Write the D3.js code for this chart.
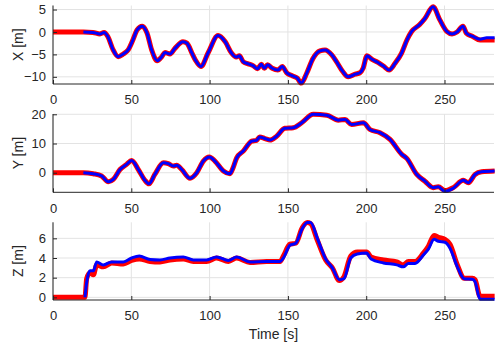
<!DOCTYPE html>
<html>
<head>
<meta charset="utf-8">
<script src="https://cdn.jsdelivr.net/npm/d3@7"></script>
<style>
  body { margin: 0; background: #fff; }
  text { font-family: "Liberation Sans", Arial, sans-serif; fill: #262626; }
</style>
</head>
<body>
<div id="chart"></div>
<script>
/* DATA */
const timeTicks = [0, 50, 100, 150, 200, 250];

const xTime = [0, 19.4, 25.5, 30, 32.6, 35, 38.4, 41.6, 44.9, 48,
  51, 53.7, 57, 60, 63, 66.5, 69.5, 71.5, 74.7, 78,
  83, 85.5, 88.7, 91, 94.5, 99, 105.4, 110, 114, 117,
  119, 121.4, 124.6, 127.7, 130.6, 133, 135, 137, 140, 143.6,
  146.4, 149.2, 153, 156, 158.5, 162, 166, 170.5, 173.7, 178,
  181, 185, 188.5, 193, 196, 198, 200.5, 203.7, 207.5, 211,
  214.6, 218.4, 222.6, 226, 229, 234, 237.5, 242.7, 247, 251.5,
  254.8, 258, 261.8, 264, 268, 272.7, 277, 282];
const xRef = [0, 0, -0.1, -0.45, -0.1, -1.0, -4.0, -5.5, -4.9, -4.0,
  -1.8, 0.45, 1.3, -0.2, -4.0, -6.4, -5.5, -4.6, -4.9, -3.6,
  -2.2, -2.5, -4.7, -6.3, -7.7, -4.7, -0.8, -2.2, -4.7, -5.6,
  -5.3, -6.6, -7.1, -7.5, -8.2, -7.2, -8.1, -7.3, -8.1, -8.5,
  -7.7, -9.1, -9.8, -10.3, -11.4, -9.2, -5.9, -4.2, -4.0, -5.1,
  -6.6, -8.8, -10.0, -9.4, -9.1, -8.1, -5.3, -6.1, -6.8, -7.6,
  -8.5, -7.0, -4.7, -1.8, 0.1, 1.6, 3.0, 5.6, 2.7, 0.1,
  -0.45, 0, 1.3, -0.3, -1.0, -1.8, -1.8, -1.8];
const xEst = [null, 0, -0.1, -0.45, -0.1, -1.0, -4.0, -5.5, -4.9, -4.0,
  -1.8, 0.45, 1.3, -0.2, -4.0, -6.4, -5.5, -4.6, -4.9, -3.6,
  -2.2, -2.5, -4.7, -6.3, -7.7, -4.7, -0.8, -2.2, -4.7, -5.6,
  -5.3, -6.6, -7.1, -7.5, -8.2, -7.2, -8.1, -7.3, -8.1, -8.5,
  -7.7, -9.1, -9.8, -10.3, -11.4, -9.2, -5.9, -4.2, -4.0, -5.1,
  -6.6, -8.8, -10.0, -9.4, -9.1, -8.1, -5.3, -6.1, -6.8, -7.6,
  -8.5, -7.0, -4.7, -1.8, 0.1, 1.6, 3.0, 5.6, 2.7, 0.1,
  -0.45, 0, 1.3, -0.3, -1.0, -1.6, -1.3, -1.3];

const yTime = [0, 19.4, 25.7, 31, 35.3, 38.5, 42.8, 47, 50.2, 54.5,
  58.3, 61.3, 65, 70.5, 73.6, 76.8, 79, 82.2, 87.5, 91.8,
  96, 99.8, 103.4, 108.8, 113, 115, 117.3, 121.5, 126.9, 130,
  132, 135.3, 138.6, 142.8, 148, 153.4, 158.8, 166.2, 174.8, 182.2,
  186.5, 190.7, 198.2, 202.4, 208.8, 215.2, 222.7, 225.9, 232.3, 237.5,
  242.8, 246, 250.3, 255.6, 262, 265.2, 269.5, 273.7, 282];
const yRef = [0, 0, -0.35, -1.1, -3.1, -2.3, 1.1, 2.85, 4.2, 1.1,
  -2.3, -3.8, -0.6, 3.4, 3.1, 2.3, 2.6, 1.1, -1.9, 0,
  4.0, 5.4, 4.0, 0.6, -0.35, 1.7, 5.1, 7.4, 10.8, 11.1,
  12.2, 11.7, 11.2, 12.5, 15.2, 15.4, 17.1, 20.0, 19.7, 18.0,
  18.2, 16.5, 17.1, 14.8, 13.7, 11.4, 6.3, 4.9, -0.6, -2.9,
  -5.1, -4.8, -6.1, -5.1, -2.6, -3.4, -0.6, 0.3, 0.6];
const yEst = [null, 0, -0.35, -1.1, -3.1, -2.3, 1.1, 2.85, 4.2, 1.1,
  -2.3, -3.8, -0.6, 3.4, 3.1, 2.3, 2.6, 1.1, -1.9, 0,
  4.0, 5.4, 4.0, 0.6, -0.35, 1.7, 5.1, 7.4, 10.8, 11.1,
  12.2, 11.7, 11.2, 12.5, 15.2, 15.4, 17.1, 20.0, 19.7, 18.0,
  18.2, 16.5, 17.1, 14.8, 13.7, 11.4, 6.3, 4.9, -0.6, -2.9,
  -5.1, -4.8, -6.4, -5.3, -2.6, -3.4, -0.6, 0.3, 0.6];

const zTime = [0, 20.4, 21.5, 23.6, 25.8, 27.9, 32.1, 37.5, 44.9, 50.2,
  55.1, 62, 68.3, 74.7, 83.2, 89.6, 98.1, 104.5, 112, 117.3,
  125.8, 136.4, 145, 147.1, 151.3, 155, 159.2, 162.4, 164.5, 168.8,
  174.1, 178.4, 182.8, 185.8, 190.1, 194.3, 200.3, 203.1, 211, 219.5,
  223.7, 226.9, 231.2, 236.5, 239.7, 243.3, 246.1, 250.3, 253.5, 258.2,
  262.5, 267.8, 269.5, 272.7, 282];
const zRef = [0, 0, 1.9, 2.5, 2.3, 3.3, 3.1, 3.5, 3.4, 3.75,
  3.9, 3.65, 3.6, 3.8, 3.9, 3.65, 3.65, 4.0, 3.65, 4.0,
  3.55, 3.65, 3.65, 4.2, 5.4, 5.5, 7.1, 7.6, 7.5, 5.8,
  3.8, 3.0, 1.7, 2.1, 4.2, 4.6, 4.6, 4.1, 3.8, 3.6,
  3.3, 3.65, 3.65, 4.5, 5.2, 6.3, 6.1, 5.9, 5.4, 3.3,
  1.95, 1.95, 1.8, 0.1, 0.1];
const zEst = [null, 0, 1.5, 2.7, 2.7, 3.6, 3.3, 3.6, 3.6, 4.0,
  4.2, 3.85, 3.8, 4.0, 4.1, 3.8, 3.8, 4.1, 3.75, 4.1,
  3.6, 3.65, 3.65, 4.0, 5.3, 5.5, 7.0, 7.6, 7.6, 6.0,
  3.9, 3.0, 1.8, 1.9, 4.0, 4.4, 4.5, 3.9, 3.5, 3.3,
  3.1, 3.45, 3.45, 4.3, 4.9, 5.9, 5.7, 5.6, 5.0, 3.1,
  1.9, 1.85, 1.6, -0.2, -0.2];

/* LAYOUT */
const width = 498, height = 348;
const left = 53, right = 494;

const panels = [
  { label: "X [m]", time: xTime, ref: xRef, est: xEst, domain: [-11.6, 5.9], ticks: [-10, -5, 0, 5], top: 5.5, bottom: 84 },
  { label: "Y [m]", time: yTime, ref: yRef, est: yEst, domain: [-6.7, 20.1], ticks: [0, 10, 20], top: 114, bottom: 192.3 },
  { label: "Z [m]", time: zTime, ref: zRef, est: zEst, domain: [-0.27, 7.63], ticks: [0, 2, 4, 6], top: 222.3, bottom: 300 }
];

const svg = d3.select("#chart")
  .append("svg")
    .attr("width", width)
    .attr("height", height);

const xScale = d3.scaleLinear()
  .domain([0, 281.6])
  .range([left, right]);

panels.forEach(p => {
  const yScale = d3.scaleLinear()
    .domain(p.domain)
    .range([p.bottom, p.top]);

  const g = svg.append("g");

  // grid
  g.selectAll(".vgrid")
    .data(timeTicks)
    .join("line")
      .attr("x1", d => xScale(d)).attr("x2", d => xScale(d))
      .attr("y1", p.top).attr("y2", p.bottom)
      .attr("stroke", "#e3e3e3");
  g.selectAll(".hgrid")
    .data(p.ticks)
    .join("line")
      .attr("x1", left).attr("x2", right)
      .attr("y1", d => yScale(d)).attr("y2", d => yScale(d))
      .attr("stroke", "#e3e3e3");

  const line = d3.line()
    .defined((d, i) => d != null)
    .x((d, i) => xScale(p.time[i]))
    .y(d => yScale(d))
    .curve(d3.curveMonotoneX);

  g.append("path")
    .attr("d", line(p.ref))
    .attr("fill", "none")
    .attr("stroke", "#ff0000")
    .attr("stroke-width", 5)
    .attr("stroke-linejoin", "round");

  g.append("path")
    .attr("d", line(p.est))
    .attr("fill", "none")
    .attr("stroke", "#0000ff")
    .attr("stroke-width", 3)
    .attr("stroke-linejoin", "round");

  // axes
  const xAxis = d3.axisBottom(xScale).tickValues(timeTicks).tickSizeInner(-4).tickSizeOuter(0).tickPadding(11);
  const yAxis = d3.axisLeft(yScale).tickValues(p.ticks).tickSizeInner(-4).tickSizeOuter(0).tickPadding(7);

  const gx = g.append("g")
    .attr("transform", `translate(0,${p.bottom})`)
    .call(xAxis);
  gx.select(".domain").attr("d", `M${left},0H${right}`);

  const gy = g.append("g")
    .attr("transform", `translate(${left},0)`)
    .call(yAxis);
  gy.select(".domain").attr("d", `M0,${p.top}V${p.bottom}`);

  [gx, gy].forEach(a => {
    a.select(".domain").attr("stroke", "#262626");
    a.selectAll(".tick line").attr("stroke", "#262626");
    a.selectAll(".tick text")
      .attr("font-size", 13)
      .attr("font-family", "Liberation Sans, Arial, sans-serif")
      .attr("fill", "#262626");
  });

  g.append("text")
    .attr("transform", `translate(18,${(p.top + p.bottom) / 2}) rotate(-90)`)
    .attr("text-anchor", "middle")
    .attr("dominant-baseline", "central")
    .attr("font-size", 14)
    .text(p.label);
});

svg.append("text")
  .attr("x", (left + right) / 2)
  .attr("y", 339)
  .attr("text-anchor", "middle")
  .attr("font-size", 14)
  .text("Time [s]");
</script>
</body>
</html>
